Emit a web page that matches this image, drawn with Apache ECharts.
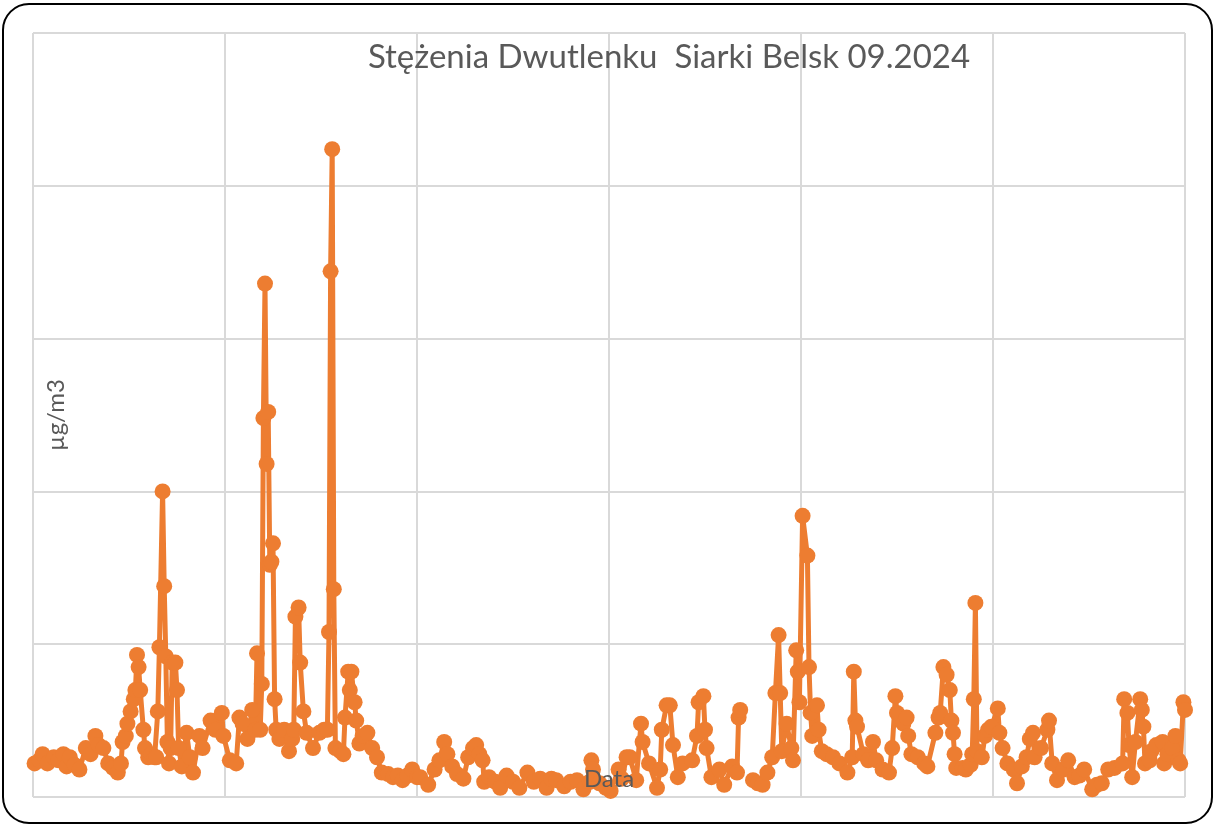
<!DOCTYPE html>
<html>
<head>
<meta charset="utf-8">
<title>SO2 Belsk 09.2024</title>
<script src="https://cdn.jsdelivr.net/npm/echarts@6/dist/echarts.min.js"></script>
<style>
  html, body { margin: 0; padding: 0; background: #ffffff; }
  #chart { width: 1215px; height: 826px; }
</style>
</head>
<body>
<div id="chart"></div>
<script>
// Hourly SO2 readings, Belsk station, September 2024.
// Each entry: [hour since 2024-09-01 00:00, concentration in µg/m3].
// '-' marks a break in the record.
const daysOneToTen = [
  [1,1.1],[4,1.2],[6,1.4],[9,1.1],[13,1.3],[16,1.2],[19,1.4],[21,1.0],[23,1.3],[26,1.05],
  [29,0.9],[33,1.6],[36,1.4],[39,2.0],[41,1.7],[44,1.6],[47,1.1],[50,0.95],[53,0.8],[55,1.1],
  [56,1.8],[58,2.0],[59,2.4],[61,2.8],[63,3.2],[64,3.5],[65,4.65],[66,4.25],[67,3.5],[69,2.2],
  [70,1.6],[72,1.3],[74,1.4],[76,1.3],[77,1.3],[78,2.8],[79,4.9],[81,10.0],[82,6.9],[83,4.6],
  [84,1.8],[85,1.1],[86,1.6],[87,4.4],[89,4.4],[90,3.5],[91,1.6],[93,1.0],[96,2.1],[98,1.3],
  [100,0.8],[104,2.0],[106,1.6],[111,2.5],[114,2.2],[118,2.75],[119,2.0],[123,1.2],[127,1.1],[129,2.6],
  [131,2.4],[134,1.9],[137,2.85],[139,2.2],[140,4.7],[142,2.2],[143,3.7],[144,12.4],[145,16.8],[146,10.9],
  [147,12.6],[148,7.6],[149,7.7],[150,8.3],[151,3.2],[152,2.2],[154,1.9],[157,2.2],[160,1.5],[162,1.9],
  [163,2.2],[164,5.9],[166,6.2],[167,4.4],[169,2.8],[171,2.1],[175,1.6],[179,2.1],[182,2.2],[184,2.2],
  [185,5.4],[186,17.2],[187,21.2],[188,6.8],[189,1.6],[192,1.5],[194,1.4],[195,2.6],[197,4.1],[198,3.5],
  [199,4.1],[201,3.1],[202,2.5],[204,1.75],[206,2.0],[209,2.1],[212,1.6],[215,1.3],[218,0.8],[222,0.75],
  [225,0.65],[228,0.7],[231,0.55],[234,0.7],[237,0.9],[240,0.65]
];
const daysElevenToTwenty = [
  [242,0.65],[247,0.4],[251,0.9],[254,1.2],[257,1.8],[259,1.4],[262,1.0],[265,0.75],[269,0.6],[272,1.3],
  [275,1.6],[277,1.7],[279,1.4],[281,1.2],[282,0.5],[285,0.65],[289,0.5],[292,0.3],[296,0.7],[300,0.5],
  [304,0.3],[309,0.8],[313,0.5],[317,0.6],[321,0.3],[324,0.6],[327,0.55],[332,0.35],[336,0.5],[340,0.55],
  [344,0.25],[348,0.5],[349,1.2],[350,0.9],[354,0.45],[358,0.3],[361,0.2],[366,0.9],[368,0.6],[371,1.3],
  [373,1.3],[377,0.55],[380,2.4],[381,1.8],[385,1.1],[390,0.3],[392,0.9],[393,2.2],[396,3.0],[398,3.0],
  [400,1.7],[403,0.65],[406,1.1],[412,1.2],[415,2.0],[416,3.1],[419,3.3],[420,2.2],[421,1.6],[424,0.65],
  [429,0.9],[432,0.4],[437,1.0],[440,0.8],[441,2.6],[442,2.85],[446,'-'],[450,0.55],[453,0.45],[456,0.4],
  [459,0.8],[462,1.3],[464,3.4],[466,5.3],[467,3.4],[468,1.5],[471,2.4],[474,1.6],[475,1.2],[477,4.8],
  [478,4.1],[479,3.1]
];
const daysTwentyOneToThirty = [
  [481,9.2],[484,7.9],[485,4.25],[486,2.75],[487,2.0],[490,3.0],[491,2.2],[493,1.5],[496,1.4],[500,1.3],
  [504,1.1],[509,0.8],[512,1.3],[513,4.1],[514,2.5],[515,2.3],[519,1.4],[522,1.2],[525,1.8],[527,1.2],
  [531,0.9],[535,0.8],[537,1.6],[539,3.3],[540,2.75],[544,2.4],[546,2.6],[547,2.0],[549,1.4],[553,1.3],
  [557,1.1],[559,1.0],[564,2.1],[566,2.6],[567,2.75],[569,4.25],[571,4.0],[573,3.5],[574,2.5],[575,2.1],
  [576,1.4],[577,0.95],[581,0.95],[583,0.9],[586,1.05],[587,1.4],[588,3.2],[589,6.35],[590,1.5],[593,1.3],
  [595,2.0],[597,2.2],[599,2.3],[603,2.9],[604,2.1],[606,1.6],[609,1.1],[613,0.9],[615,0.45],[618,1.0],
  [621,1.3],[623,1.9],[625,2.1],[626,1.3],[630,1.6],[634,2.2],[635,2.5],[637,1.1],[640,0.55],[644,0.9],
  [647,1.2],[651,0.65],[654,0.7],[657,0.9],[662,0.25],[665,0.4],[668,0.45],[672,0.9],[676,0.95],[681,1.1],
  [682,3.2],[684,2.75],[685,1.7],[687,0.65],[689,1.8],[692,3.2],[693,2.85],[694,2.3],[695,1.1],[698,1.2],
  [699,1.5],[702,1.7],[706,1.8],[707,1.1],[709,1.4],[712,1.6],[714,2.0],[716,1.2],[717,1.1],[719,3.1],
  [720,2.85]
];

const readings = daysOneToTen.concat(daysElevenToTwenty, daysTwentyOneToThirty);

const chartTitle = 'Stężenia Dwutlenku  Siarki Belsk 09.2024';
const valueAxisName = 'µg/m3';
const timeAxisName = 'Data';

const chart = echarts.init(document.getElementById('chart'), null, { renderer: 'canvas' });

const textFont = 'Lato, "Open Sans", sans-serif';
const textColor = '#595959';
const gridColor = '#d9d9d9';
const lineColor = '#ED7D31';

chart.setOption({
  animation: false,
  backgroundColor: '#ffffff',
  title: {
    text: chartTitle,
    left: 664,
    top: 36,
    textAlign: 'center',
    textStyle: { fontFamily: textFont, fontSize: 33, fontWeight: 'normal', color: textColor }
  },
  grid: { left: 33, right: 30, top: 33, bottom: 29, containLabel: false },
  xAxis: {
    type: 'value',
    min: 0,
    max: 720,
    interval: 120,
    axisLine: { show: false },
    axisTick: { show: false },
    axisLabel: { show: false },
    splitLine: { show: true, lineStyle: { color: gridColor, width: 2 } }
  },
  yAxis: {
    type: 'value',
    min: 0,
    max: 25,
    interval: 5,
    name: valueAxisName,
    nameLocation: 'middle',
    nameRotate: 90,
    nameGap: -35,
    nameTextStyle: { fontFamily: textFont, fontSize: 24, color: textColor },
    axisLine: { show: false },
    axisTick: { show: false },
    axisLabel: { show: false },
    splitLine: { show: true, lineStyle: { color: gridColor, width: 2 } }
  },
  graphic: [{
    type: 'rect',
    silent: true,
    z: 100,
    shape: { x: 3, y: 4, width: 1209, height: 819, r: 26 },
    style: { fill: 'none', stroke: '#000000', lineWidth: 2 }
  }, {
    // time-axis caption, laid over the plotted line
    type: 'text',
    silent: true,
    z: 100,
    x: 609,
    y: 779,
    style: {
      text: timeAxisName,
      fill: textColor,
      font: '24px Lato, "Open Sans", sans-serif',
      align: 'center',
      verticalAlign: 'middle'
    }
  }],
  series: [{
    type: 'line',
    data: readings,
    connectNulls: false,
    symbol: 'circle',
    symbolSize: 16,
    showAllSymbol: true,
    itemStyle: { color: lineColor },
    lineStyle: { color: lineColor, width: 5 }
  }]
});
</script>
</body>
</html>
